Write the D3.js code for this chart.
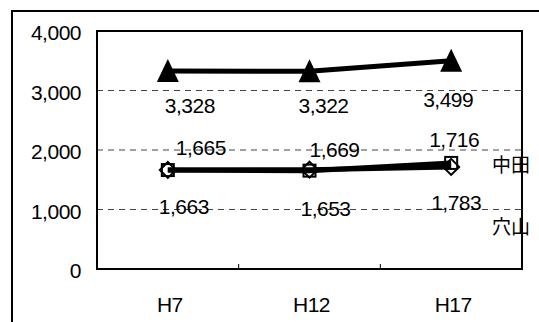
<!DOCTYPE html>
<html>
<head>
<meta charset="utf-8">
<script src="https://cdn.jsdelivr.net/npm/d3@7"></script>
<style>
  html, body { margin: 0; padding: 0; background: #fff; }
  svg { display: block; }
  .num { font-family: "Liberation Sans", Arial, sans-serif; font-size: 21px; letter-spacing: -0.5px; fill: #000; }
  .jp { font-family: "Noto Sans CJK JP", sans-serif; font-size: 19px; fill: #000; }
</style>
</head>
<body>
<svg id="chart" width="539" height="322"></svg>
<script>
// Census years and population per district
const categories = ["H7", "H12", "H17"];
const totalValues = [3328, 3322, 3499];
const nakataValues = [1665, 1669, 1716];
const anayamaValues = [1663, 1653, 1783];
const yTicks = [0, 1000, 2000, 3000, 4000];
const seriesNames = ["中田", "穴山"];

// label nudges (px) relative to each point
const totalLabelShift = [[22, 34], [14, 34], [-3, 39]];
const nakataLabelShift = [[33, -22], [25, -20], [3, -27]];
const anayamaLabelShift = [[16, 36], [16, 38], [5, 40]];

const svg = d3.select("#chart");
const plot = { left: 97, right: 522, top: 31, bottom: 269 };

const x = d3.scaleBand().domain(categories).range([plot.left, plot.right]).paddingInner(0).paddingOuter(0);
const y = d3.scaleLinear().domain([0, 4000]).range([plot.bottom, plot.top]);
const cx = c => x(c) + x.bandwidth() / 2;
const fmt = d3.format(",");

// outer frame
svg.append("rect").attr("x", 12).attr("y", 11).attr("width", 560).attr("height", 340)
  .attr("fill", "none").attr("stroke", "#000").attr("stroke-width", 2);

// dashed gridlines
svg.append("g").selectAll("line").data(yTicks.filter(v => v > 0 && v < 4000)).join("line")
  .attr("x1", plot.left).attr("x2", plot.right)
  .attr("y1", d => y(d)).attr("y2", d => y(d))
  .attr("stroke", "#444").attr("stroke-width", 1).attr("stroke-dasharray", "6,5");

// y axis labels
const yAxis = d3.axisLeft(y).tickValues(yTicks).tickFormat(fmt).tickSize(0).tickPadding(16);
const gy = svg.append("g").attr("transform", `translate(${plot.left},0)`).call(yAxis);
gy.select(".domain").remove();
gy.selectAll("text").attr("class", "num").attr("dy", "0.42em").attr("font-family", null).attr("font-size", null);

// x axis labels
const xAxis = d3.axisBottom(x).tickSize(0).tickPadding(0);
const gx = svg.append("g").attr("transform", `translate(2,${plot.bottom})`).call(xAxis);
gx.select(".domain").remove();
gx.selectAll("text").attr("class", "num").attr("y", 36).attr("dy", "0.35em").attr("font-family", null).attr("font-size", null);

// inward category ticks
svg.append("g").selectAll("line").data(categories.slice(1)).join("line")
  .attr("x1", d => x(d)).attr("x2", d => x(d))
  .attr("y1", plot.bottom).attr("y2", plot.bottom - 5)
  .attr("stroke", "#000").attr("stroke-width", 1);

// plot frame
svg.append("rect").attr("x", plot.left).attr("y", plot.top)
  .attr("width", plot.right - plot.left).attr("height", plot.bottom - plot.top)
  .attr("fill", "none").attr("stroke", "#000").attr("stroke-width", 2);

const line = d3.line().x((d, i) => cx(categories[i])).y(d => y(d));

function drawSeries(values, marker, shifts) {
  svg.append("path").datum(values).attr("d", line)
    .attr("fill", "none").attr("stroke", "#000").attr("stroke-width", 5).attr("stroke-linejoin", "round");
  const g = svg.append("g");
  values.forEach((v, i) => {
    const px = cx(categories[i]), py = y(v);
    if (marker === "triangle") {
      g.append("path").attr("d", `M${px},${py - 12}L${px + 11},${py + 11}L${px - 11},${py + 11}Z`).attr("fill", "#000");
    } else if (marker === "diamond") {
      g.append("path").attr("d", `M${px},${py - 8}L${px + 8},${py}L${px},${py + 8}L${px - 8},${py}Z`)
        .attr("fill", "none").attr("stroke", "#000").attr("stroke-width", 2);
    } else {
      g.append("rect").attr("x", px - 6).attr("y", py - 6).attr("width", 12).attr("height", 12)
        .attr("fill", "none").attr("stroke", "#000").attr("stroke-width", 2);
    }
  });
  return values.map((v, i) => ({ v, px: cx(categories[i]) + shifts[i][0], py: y(v) + shifts[i][1] }));
}

const labels = []
  .concat(drawSeries(totalValues, "triangle", totalLabelShift))
  .concat(drawSeries(nakataValues, "diamond", nakataLabelShift))
  .concat(drawSeries(anayamaValues, "square", anayamaLabelShift));

svg.append("g").selectAll("text").data(labels).join("text")
  .attr("class", "num").attr("text-anchor", "middle")
  .attr("x", d => d.px).attr("y", d => d.py).attr("dy", "0.36em")
  .text(d => fmt(d.v));

// district names at the right edge
svg.append("g").selectAll("text").data(seriesNames).join("text")
  .attr("class", "jp").attr("x", 492).attr("y", (d, i) => [165, 227][i]).attr("dy", "0.36em")
  .text(d => d);
</script>
</body>
</html>
